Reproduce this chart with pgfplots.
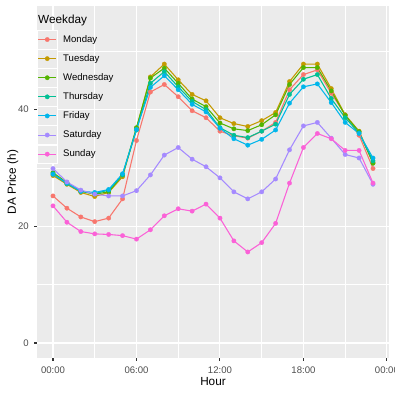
\documentclass[border=0pt]{standalone}
\usepackage{fontspec}
\setmainfont{Liberation Sans}
\usepackage{pgfplots}
\usepackage{pgfplotstable}
\pgfplotsset{compat=1.18}

\definecolor{ggbg}{HTML}{EBEBEB}
\definecolor{grey30}{HTML}{4D4D4D}
\definecolor{grey20}{HTML}{333333}
\definecolor{cMon}{HTML}{F8766D}
\definecolor{cTue}{HTML}{C49A00}
\definecolor{cWed}{HTML}{53B400}
\definecolor{cThu}{HTML}{00C094}
\definecolor{cFri}{HTML}{00B6EB}
\definecolor{cSat}{HTML}{A58AFF}
\definecolor{cSun}{HTML}{FB61D7}

% mean day-ahead price per hour and weekday
\pgfplotstableread{
h  Mon  Tue  Wed  Thu  Fri  Sat  Sun
0  25.2 28.7 29.2 29.0 28.9 29.9 23.5
1  23.1 27.2 27.5 27.3 27.4 27.6 20.7
2  21.6 25.8 26.0 26.0 26.0 26.2 19.1
3  20.8 25.1 25.5 25.6 25.8 25.5 18.7
4  21.4 25.8 25.9 26.2 26.3 25.2 18.6
5  24.7 28.5 28.8 28.8 29.0 25.2 18.4
6  34.7 36.8 36.9 36.5 36.6 26.1 17.8
7  43.0 45.6 45.4 44.5 43.8 28.8 19.4
8  44.3 47.8 47.1 46.5 45.8 32.2 21.8
9  42.2 45.1 44.5 43.9 43.4 33.5 23.0
10 39.8 42.6 41.8 41.4 40.9 31.5 22.6
11 38.6 41.5 40.5 40.0 39.6 30.2 23.8
12 36.3 38.6 37.7 36.9 36.8 28.3 21.4
13 35.5 37.6 36.7 35.6 35.0 25.9 17.5
14 35.1 37.1 36.4 35.2 33.9 24.7 15.6
15 36.3 38.1 37.4 36.3 34.9 25.9 17.2
16 37.8 39.5 39.1 37.5 36.5 28.1 20.5
17 43.4 44.8 44.3 42.6 41.1 33.1 27.4
18 46.0 47.8 47.2 45.2 43.9 37.2 33.5
19 46.8 47.8 47.2 46.0 44.4 37.8 35.9
20 42.8 43.6 43.2 41.9 41.2 35.1 35.0
21 39.1 39.1 39.0 38.6 37.8 32.3 33.0
22 35.6 36.3 36.2 36.0 35.9 31.7 33.0
23 29.9 30.9 30.8 31.2 31.7 27.2 27.4
}\prices

\pgfplotsset{
  ln/.style={color=#1, line width=1.07bp, mark=none, forget plot},
  pt/.style={color=#1, line width=1.07bp, only marks, mark=*, mark size=2.2bp,
    mark options={line width=0.3bp}},
}

\begin{document}
\begin{tikzpicture}
\begin{axis}[
  at={(37bp,37bp)}, anchor=south west,
  width=352bp, height=352bp, scale only axis,
  xmin=-1.15, xmax=24.15,
  ymin=-2.57, ymax=57.75,
  axis background/.style={fill=ggbg},
  axis line style={draw=none},
  grid=both,
  major grid style={white, line width=1.07bp},
  minor grid style={white, line width=0.53bp},
  xtick={0,6,12,18,24},
  xticklabels={00:00,06:00,12:00,18:00,00:00},
  minor xtick={3,9,15,21},
  ytick={0,20,40},
  minor ytick={10,30,50},
  tick pos=left,
  tick align=outside,
  major tick length=2.75bp,
  minor tick length=0pt,
  tick style={grey20, line width=1.07bp},
  /pgf/number format/assume math mode=true,
  ticklabel style={font=\fontsize{9.6}{11}\selectfont, text=grey30, inner sep=0pt},
  yticklabel style={anchor=east, xshift=-5.3bp},
  xticklabel style={anchor=north, yshift=-6bp},
  xlabel={Hour},
  ylabel={DA Price (h)},
  label style={font=\fontsize{11.8}{13}\selectfont, inner sep=0pt},
  xlabel style={at={(axis description cs:0.5,-0.0767)}, anchor=base},
  ylabel style={at={(axis description cs:-0.0597,0.5)}, anchor=base, rotate=0},
  legend style={at={(axis description cs:0,1)}, anchor=north west, yshift=-24bp,
    draw=none, fill=none, inner sep=0pt, outer sep=0pt, row sep=0pt, column sep=5.7bp,
    font=\fontsize{9.6}{11}\selectfont,
    nodes={inner sep=0pt, outer sep=0pt}},
  legend cell align=left,
  legend image code/.code={
    \draw[white, fill=ggbg, line width=0.5bp] (0bp,-9.3bp) rectangle (20bp,9.3bp);
    \draw[#1] (1bp,0bp) -- (19bp,0bp);
    \draw[#1] plot coordinates {(10bp,0bp)};
  },
]
% lines first, then points (as the layers are drawn)
\addplot[ln=cMon] table[x=h, y=Mon] {\prices};
\addplot[ln=cTue] table[x=h, y=Tue] {\prices};
\addplot[ln=cWed] table[x=h, y=Wed] {\prices};
\addplot[ln=cThu] table[x=h, y=Thu] {\prices};
\addplot[ln=cFri] table[x=h, y=Fri] {\prices};
\addplot[ln=cSat] table[x=h, y=Sat] {\prices};
\addplot[ln=cSun] table[x=h, y=Sun] {\prices};

\addplot[pt=cMon] table[x=h, y=Mon] {\prices};
\addlegendentry{Monday}
\addplot[pt=cTue] table[x=h, y=Tue] {\prices};
\addlegendentry{Tuesday}
\addplot[pt=cWed] table[x=h, y=Wed] {\prices};
\addlegendentry{Wednesday}
\addplot[pt=cThu] table[x=h, y=Thu] {\prices};
\addlegendentry{Thursday}
\addplot[pt=cFri] table[x=h, y=Fri] {\prices};
\addlegendentry{Friday}
\addplot[pt=cSat] table[x=h, y=Sat] {\prices};
\addlegendentry{Saturday}
\addplot[pt=cSun] table[x=h, y=Sun] {\prices};
\addlegendentry{Sunday}

\node[anchor=base west, inner sep=0pt, font=\fontsize{11.8}{13}\selectfont]
  at ([xshift=1bp, yshift=-17.3bp]current axis.north west) {Weekday};
\end{axis}
\pgfresetboundingbox
\path (0,0) rectangle (395bp,395bp);
\end{tikzpicture}
\end{document}
